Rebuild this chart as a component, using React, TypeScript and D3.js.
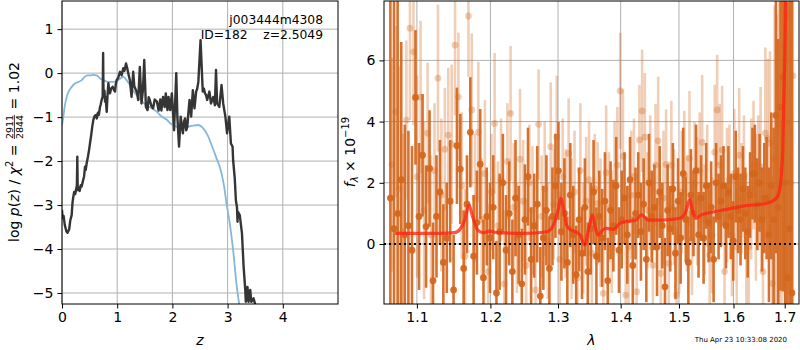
import { useEffect, useRef } from 'react'
import * as d3 from 'd3'

// ---- left panel: log p(z) ----
const pzZ = [0.0, 0.01, 0.03, 0.05, 0.08, 0.10, 0.13, 0.15, 0.175, 0.19, 0.205, 0.22, 0.24, 0.26, 0.27, 0.277, 0.285, 0.30, 0.32, 0.34,
  0.356, 0.38, 0.40, 0.417, 0.43, 0.447, 0.47, 0.49, 0.507, 0.53, 0.55, 0.567, 0.59, 0.616, 0.63, 0.65, 0.668, 0.688, 0.70, 0.72,
  0.737, 0.745, 0.752, 0.77, 0.78, 0.79, 0.81, 0.825, 0.84, 0.855, 0.87, 0.89, 0.918, 0.94, 0.96, 0.975, 0.99, 1.02, 1.05, 1.08,
  1.11, 1.13, 1.16, 1.18, 1.20, 1.23, 1.26, 1.29, 1.31, 1.34, 1.36, 1.38, 1.41, 1.44, 1.465, 1.49, 1.52, 1.55, 1.57, 1.59,
  1.62, 1.65, 1.68, 1.72, 1.75, 1.78, 1.80, 1.83, 1.86, 1.88, 1.91, 1.93, 1.96, 1.99, 2.03, 2.07, 2.09, 2.12, 2.15, 2.17,
  2.19, 2.21, 2.23, 2.25, 2.27, 2.29, 2.31, 2.34, 2.37, 2.40, 2.43, 2.45, 2.47, 2.51, 2.55, 2.57, 2.59, 2.61, 2.63, 2.67,
  2.70, 2.74, 2.77, 2.79, 2.81, 2.85, 2.89, 2.92, 2.96, 2.99, 3.03, 3.06, 3.09, 3.10, 3.13, 3.15, 3.17, 3.18, 3.185, 3.22,
  3.26, 3.29, 3.32, 3.33, 3.36, 3.38, 3.41, 3.43, 3.47, 3.50]
const pzLog = [-3.11, -3.30, -3.25, -3.45, -3.60, -3.63, -3.55, -3.35, -3.23, -2.95, -2.81, -2.70, -2.75, -2.62, -2.55, -1.90, -2.66, -2.60, -2.68, -2.55,
  -2.58, -2.45, -2.35, -2.13, -2.20, -2.05, -1.90, -1.75, -1.60, -1.40, -1.20, -1.07, -0.98, -0.95, -1.03, -0.90, -0.95, -0.77, -0.72, -0.60,
  -0.54, 0.46, -0.50, -0.40, -0.65, -0.54, -0.88, -0.50, -0.23, -0.40, -0.46, -0.35, -0.31, -0.38, -0.42, -0.25, -0.16, -0.10, 0.03, -0.05,
  0.11, 0.05, 0.22, 0.12, 0.0, -0.16, -0.54, 0.03, -0.30, -0.39, -0.45, -0.61, 0.14, -0.69, -0.40, 0.30, -0.77, -0.84, -0.55, -0.61,
  -0.75, -0.80, -0.60, -0.65, -0.85, -0.60, -0.85, -0.54, -0.77, -0.46, -0.84, -0.54, -0.84, -0.46, -1.30, 0.0, -0.99, -1.67, -0.99, -1.20,
  -1.37, -1.10, -1.03, -1.30, -1.22, -0.90, -0.61, -0.99, -0.39, -0.80, -0.42, -0.35, -0.20, 0.75, -0.42, -0.35, -0.46, -0.50, -0.61, -0.42,
  -0.69, -0.54, -0.73, 0.07, -0.69, -0.77, -0.27, -0.69, -0.99, -1.37, -0.99, -1.60, -1.67, -1.98, -2.40, -2.89, -3.05, -3.38, -3.15, -3.23,
  -3.64, -4.40, -4.93, -5.20, -4.86, -5.20, -4.93, -5.20, -5.12, -5.26]

const priorZ = [0.0, 0.02, 0.05, 0.085, 0.12, 0.16, 0.205, 0.26, 0.30, 0.357, 0.417, 0.46, 0.507, 0.57, 0.628, 0.69, 0.75, 0.84, 0.93, 1.02,
  1.08, 1.11, 1.17, 1.22, 1.26, 1.32, 1.38, 1.45, 1.53, 1.62, 1.72, 1.80, 1.90, 1.96, 2.08, 2.20, 2.35, 2.47, 2.53, 2.58,
  2.62, 2.67, 2.71, 2.76, 2.80, 2.85, 2.89, 2.94, 2.98, 3.04, 3.10, 3.16, 3.21]
const priorLog = [-1.20, -1.03, -0.75, -0.54, -0.42, -0.34, -0.27, -0.22, -0.20, -0.16, -0.08, -0.05, -0.05, -0.04, -0.05, -0.12, -0.16, -0.20, -0.20, -0.16,
  -0.10, -0.08, -0.16, -0.25, -0.35, -0.45, -0.54, -0.64, -0.73, -0.80, -0.88, -0.98, -1.06, -1.14, -1.22, -1.24, -1.20, -1.18, -1.22, -1.29,
  -1.37, -1.50, -1.64, -1.80, -1.94, -2.10, -2.28, -2.60, -2.96, -3.42, -4.02, -4.78, -5.26]

const zTicks = [0, 1, 2, 3, 4]
const pTicks = [-5, -4, -3, -2, -1, 0, 1]

// ---- right panel: spectrum ----
const darkStart = 1.066
const lightStart = 1.068
const pixStep = 0.0046

const darkFlux = [1.5, 0.5, 1.0, 2.1, 0.3, 0.6, -0.2, 4.79, 0.9, 2.9,
  0.57, 2.47, -1.2, 0.9, 1.7, -0.6, 0.2, 1.4, -1.5, 3.21,
  2.45, -0.8, 1.3, 3.65, -0.4, 0.7, 2.61, -1.1, 0.9, 0.2,
  1.2, -1.6, 0.4, 2.0, -0.2, 1.0, -0.9, 1.5, 0.3, -1.3,
  0.8, 2.2, -0.5, 0.6, 1.3, -1.7, 0.2, 1.1, -0.8, 0.9,
  1.9, 2.39, 0.4, 1.0, -0.6, 1.6, 0.3, -1.0, 0.8, -0.3,
  1.2, -0.9, 0.5, 1.7, -0.4, 0.9, 0.2, 1.4, -1.2, 1.1,
  0.6, 1.9, -0.2, 0.8, 1.5, 0.3, 2.1, -0.7, 1.0, 1.6,
  0.4, 1.3, -0.5, 2.0, 0.9, 1.2, -0.1, 1.7, 0.6, -1.4,
  1.1, 0.5, 1.8, -0.3, 1.4, 0.2, 2.3, 0.8, -0.6, 1.6,
  1.0, 2.4, 0.3, 1.5, 0.2, 1.9, 0.7, 1.2, -0.5, 2.0,
  0.9, 1.4, 1.9, 0.6, 1.7, 0.9, 0.1, 2.2, 1.1, 0.8,
  1.8, 1.0, 0.4, 1.6, 2.3, 2.3, 1.3, 2.0, 0.8, 1.5,
  1.5, 0.3, 1.9, 0.8, 4.2, 1.2, 4.47, 5.45, 2.0, -1.1, 0.5, -1.6]
const darkErr = [8, 8, 7, 4.5, 3.6, 3.1, 3.4, 2.2, 2.4, 2.0,
  2.0, 1.9, 1.9, 2.0, 1.7, 1.9, 1.8, 2.0, 1.8, 1.9,
  1.8, 1.9, 1.6, 1.8, 2.0, 1.7, 1.8, 1.9, 1.6, 1.8,
  1.7, 1.7, 1.9, 1.6, 1.8, 1.7, 1.7, 1.9, 1.6, 1.8,
  1.8, 1.6, 1.7, 1.7, 1.9, 1.6, 1.7, 1.8, 1.7, 1.6,
  1.7, 1.6, 1.6, 1.8, 1.5, 1.7, 1.6, 1.6, 1.7, 1.5,
  1.6, 1.6, 1.5, 1.7, 1.6, 1.5, 1.6, 1.6, 1.4, 1.6,
  1.5, 1.6, 1.4, 1.6, 1.5, 1.6, 1.4, 1.6, 1.5, 1.4,
  1.6, 1.5, 1.4, 1.6, 1.5, 1.4, 1.6, 1.5, 1.4, 1.6,
  1.5, 1.4, 1.5, 1.5, 1.4, 1.5, 1.5, 1.4, 1.5, 1.5,
  1.4, 1.5, 1.4, 1.4, 1.5, 1.4, 1.3, 1.5, 1.4, 1.3,
  1.4, 1.5, 1.3, 1.4, 1.5, 1.4, 1.3, 1.5, 1.4, 1.5,
  1.4, 1.5, 1.5, 1.4, 1.5, 1.6, 1.5, 1.6, 1.7, 1.8,
  2.0, 2.2, 2.4, 3.0, 4.5, 5.5, 6, 7, 8, 9, 9, 10]

const lightFlux = [2.6, 4.32, 1.8, 0.4, 4.05, 7.05, 6.28, 2.2, 4.8, 1.1,
  3.62, 0.3, 2.4, 5.42, 1.6, 3.1, 3.56, 3.26, 6.5, 4.81,
  1.9, -0.4, 7.45, 4.38, 1.5, 3.65, 0.8, 2.3, -0.9, 1.7,
  3.94, 0.6, 2.1, -1.3, 2.7, 4.27, 1.2, 0.2, 2.77, 1.4,
  -0.7, 2.0, 1.1, -1.5, 3.91, 0.9, 1.8, 0.1, 3.18, 1.3,
  3.5, -0.5, 2.2, 1.0, 2.96, 0.5, 1.7, -1.1, 2.4, 0.19,
  1.4, 2.1, -0.3, 1.8, 1.33, 0.7, -1.61, 2.33, 1.2, 0.4,
  1.9, 2.58, 5.0, 2.87, -1.67, -0.09, 1.6, 2.2, -1.56, 3.4,
  4.35, 3.49, 1.1, 2.0, -0.69, 2.58, 3.37, -0.96, 1.5, 2.6,
  -0.63, 2.58, 1.2, -1.67, 0.19, 1.7, 2.25, 1.0, 2.8, 0.13,
  1.98, 1.4, 2.4, 3.32, 0.8, 1.9, -0.36, 0.29, 3.0, 4.38,
  2.58, 3.07, -0.9, 1.6, 2.1, 0.29, 2.31, -0.09, 2.9, 1.5,
  2.2, 0.13, -0.09, 1.8, 2.58, 1.2, 2.0, 2.53, -0.9, 3.62,
  3.45, 3.29, -1.29, 2.8, 1.5, 3.9, 2.4, 6.5, 4.0, 7.5, 2.0, 5.5]
const lightErr = [3.5, 2.8, 4.0, 3.2, 2.6, 3.0, 2.4, 3.3, 2.5, 2.9,
  2.3, 2.6, 2.2, 2.4, 2.5, 2.0, 2.2, 2.6, 2.3, 2.1,
  2.4, 2.2, 2.0, 2.5, 2.1, 2.3, 2.0, 2.4, 2.2, 1.9,
  2.3, 2.1, 2.0, 2.4, 1.9, 2.2, 2.1, 1.8, 2.3, 2.0,
  2.2, 1.9, 2.1, 2.3, 1.8, 2.0, 2.2, 1.9, 2.1, 1.8,
  2.0, 2.2, 1.9, 2.1, 1.8, 2.3, 2.0, 1.9, 2.2, 1.8,
  2.1, 1.9, 2.2, 1.8, 2.0, 2.1, 1.9, 2.2, 1.8, 2.0,
  2.1, 1.9, 1.9, 2.2, 1.8, 2.0, 2.1, 1.9, 2.2, 1.8,
  2.0, 2.1, 1.9, 2.2, 1.8, 2.0, 2.1, 1.9, 2.2, 1.8,
  2.0, 2.1, 1.9, 2.2, 1.8, 2.0, 2.1, 1.9, 2.2, 1.8,
  2.0, 2.1, 1.9, 2.2, 1.8, 2.0, 2.1, 1.9, 2.2, 1.8,
  2.0, 2.1, 1.9, 2.2, 1.8, 2.0, 2.1, 1.9, 2.2, 1.8,
  2.0, 2.2, 1.9, 2.3, 2.1, 2.4, 2.2, 2.6, 2.4, 2.8,
  2.6, 3.0, 3.5, 5, 6, 7, 8, 8, 9, 9, 9, 10]

const modelWave = [1.072, 1.10, 1.13, 1.150, 1.158, 1.164, 1.170, 1.175, 1.182, 1.189, 1.199, 1.21, 1.25, 1.283, 1.293, 1.300, 1.304, 1.309,
  1.313, 1.320, 1.327, 1.334, 1.342, 1.348, 1.354, 1.358, 1.363, 1.370, 1.377, 1.388, 1.399, 1.415, 1.425, 1.435, 1.4465, 1.467,
  1.485, 1.5016, 1.512, 1.5195, 1.525, 1.530, 1.540, 1.5498, 1.587, 1.618, 1.664, 1.683, 1.690, 1.693, 1.696, 1.700, 1.703]
const modelFlux = [0.35, 0.35, 0.35, 0.37, 0.50, 0.78, 1.27, 0.89, 0.46, 0.37, 0.42, 0.37, 0.35, 0.40, 0.62, 1.11, 1.49, 1.11,
  0.62, 0.46, 0.40, 0.30, -0.03, 0.50, 0.95, 0.60, 0.29, 0.45, 0.51, 0.48, 0.68, 0.75, 0.78, 0.95, 0.78, 0.78,
  0.80, 0.84, 1.05, 1.46, 1.05, 0.84, 0.95, 1.00, 1.13, 1.24, 1.33, 1.49, 1.80, 2.2, 3.07, 6.0, 9.0]

const waveTicks = [1.1, 1.2, 1.3, 1.4, 1.5, 1.6, 1.7]
const fluxTicks = [0, 2, 4, 6]

const FONT = 'DejaVu Sans, sans-serif'
const ORANGE = '#d4661c'

export default function App() {
  const svgRef = useRef<SVGSVGElement>(null)

  useEffect(() => {
    if (!svgRef.current) return
    const svg = d3.select(svgRef.current)
    svg.selectAll('*').remove()
    svg.attr('font-family', FONT)

    const defs = svg.append('defs')

    // ---------- left panel ----------
    const L = { left: 62, right: 338, top: 1, bottom: 304 }
    const xz = d3.scaleLinear().domain([0, 5]).range([L.left, L.right])
    const yp = d3.scaleLinear().domain([-5.25, 1.64]).range([L.bottom, L.top])

    defs.append('clipPath').attr('id', 'clipL').append('rect')
      .attr('x', L.left).attr('y', L.top).attr('width', L.right - L.left).attr('height', L.bottom - L.top)

    const gl = svg.append('g')
    // grid
    gl.selectAll('line.gx').data(zTicks).enter().append('line')
      .attr('x1', d => xz(d)).attr('x2', d => xz(d)).attr('y1', L.top).attr('y2', L.bottom)
      .attr('stroke', '#b0b0b0').attr('stroke-width', 1)
    gl.selectAll('line.gy').data(pTicks).enter().append('line')
      .attr('y1', d => yp(d)).attr('y2', d => yp(d)).attr('x1', L.left).attr('x2', L.right)
      .attr('stroke', '#b0b0b0').attr('stroke-width', 1)

    const dataL = gl.append('g').attr('clip-path', 'url(#clipL)')
    const priorPts = priorZ.map((z, i) => [z, priorLog[i]] as [number, number])
    const pzPts = pzZ.map((z, i) => [z, pzLog[i]] as [number, number])
    dataL.append('path')
      .datum(priorPts)
      .attr('fill', 'none').attr('stroke', '#86b6da').attr('stroke-width', 1.8)
      .attr('d', d3.line<[number, number]>().x(d => xz(d[0])).y(d => yp(d[1])).curve(d3.curveMonotoneX))
    dataL.append('path')
      .datum(pzPts)
      .attr('fill', 'none').attr('stroke', '#353535').attr('stroke-width', 2.4).attr('stroke-linejoin', 'round')
      .attr('d', d3.line<[number, number]>().x(d => xz(d[0])).y(d => yp(d[1])))

    // frame + axes
    gl.append('rect').attr('x', L.left).attr('y', L.top).attr('width', L.right - L.left).attr('height', L.bottom - L.top)
      .attr('fill', 'none').attr('stroke', '#000').attr('stroke-width', 1)
    const axL = gl.append('g').attr('transform', `translate(0,${L.bottom})`)
      .call(d3.axisBottom(xz).tickValues(zTicks).tickFormat(d3.format('d')).tickSize(4.5).tickPadding(4))
    const ayL = gl.append('g').attr('transform', `translate(${L.left},0)`)
      .call(d3.axisLeft(yp).tickValues(pTicks).tickFormat(d3.format('d')).tickSize(4.5).tickPadding(4))
    ;[axL, ayL].forEach(a => {
      a.select('.domain').remove()
      a.selectAll('text').attr('font-size', 14).attr('font-family', FONT).attr('fill', '#000')
      a.selectAll('line').attr('stroke', '#000')
    })

    // annotation
    gl.append('text').attr('x', 323).attr('y', 24).attr('text-anchor', 'end').attr('font-size', 12.3)
      .text('j003444m4308')
    gl.append('text').attr('x', 323).attr('y', 39).attr('text-anchor', 'end').attr('font-size', 12.3)
      .style('white-space', 'pre').text('ID=182    z=2.5049')

    // x label
    gl.append('text').attr('x', (L.left + L.right) / 2).attr('y', 345).attr('text-anchor', 'middle')
      .attr('font-size', 14).attr('font-style', 'italic').text('z')

    // y label with fraction
    const yl = gl.append('g')
    const part1 = yl.append('text').attr('font-size', 14).attr('x', 0).attr('y', 0)
    part1.append('tspan').text('log ')
    part1.append('tspan').attr('font-style', 'italic').text('p')
    part1.append('tspan').text('(')
    part1.append('tspan').attr('font-style', 'italic').text('z')
    part1.append('tspan').text(') / ')
    part1.append('tspan').attr('font-style', 'italic').text('χ')
    part1.append('tspan').attr('font-size', 10).attr('dy', -6).text('2')
    part1.append('tspan').attr('dy', 6).style('white-space', 'pre').text(' = ')
    const w1 = (part1.node() as SVGTextElement).getComputedTextLength()
    const num = yl.append('text').attr('font-size', 9.5).attr('y', -6.5).text('2911')
    const den = yl.append('text').attr('font-size', 9.5).attr('y', 3.5).text('2844')
    const fw = Math.max((num.node() as SVGTextElement).getComputedTextLength(), (den.node() as SVGTextElement).getComputedTextLength())
    num.attr('x', w1 + 1).attr('textLength', fw)
    den.attr('x', w1 + 1)
    yl.append('line').attr('x1', w1 + 1).attr('x2', w1 + 1 + fw).attr('y1', -4.6).attr('y2', -4.6)
      .attr('stroke', '#000').attr('stroke-width', 0.8)
    const part2 = yl.append('text').attr('font-size', 14).attr('x', w1 + fw + 2).attr('y', 0)
      .style('white-space', 'pre').text(' = 1.02')
    const total = w1 + fw + 2 + (part2.node() as SVGTextElement).getComputedTextLength()
    yl.attr('transform', `translate(19,${152 + total / 2}) rotate(-90)`)

    // ---------- right panel ----------
    const R = { left: 384, right: 799, top: 1, bottom: 304 }
    const xw = d3.scaleLog().domain([1.058, 1.729]).range([R.left, R.right])
    const yf = d3.scaleLinear().domain([-1.96, 7.94]).range([R.bottom, R.top])

    defs.append('clipPath').attr('id', 'clipR').append('rect')
      .attr('x', R.left).attr('y', R.top).attr('width', R.right - R.left).attr('height', R.bottom - R.top)

    const gr = svg.append('g')
    gr.selectAll('line.gx').data(waveTicks).enter().append('line')
      .attr('x1', d => xw(d)).attr('x2', d => xw(d)).attr('y1', R.top).attr('y2', R.bottom)
      .attr('stroke', '#b0b0b0').attr('stroke-width', 1)
    gr.selectAll('line.gy').data(fluxTicks).enter().append('line')
      .attr('y1', d => yf(d)).attr('y2', d => yf(d)).attr('x1', R.left).attr('x2', R.right)
      .attr('stroke', '#b0b0b0').attr('stroke-width', 1)

    const dataR = gr.append('g').attr('clip-path', 'url(#clipR)')

    const lightPts = lightFlux.map((f, i) => ({ w: lightStart + i * pixStep, f, e: lightErr[i] }))
    const darkPts = darkFlux.map((f, i) => ({ w: darkStart + i * pixStep, f, e: darkErr[i] }))

    const drawSet = (pts: { w: number; f: number; e: number }[], opacity: number) => {
      const g = dataR.append('g')
      pts.forEach(p => {
        g.append('line')
          .attr('x1', xw(p.w)).attr('x2', xw(p.w))
          .attr('y1', yf(p.f - p.e)).attr('y2', yf(p.f + p.e))
          .attr('stroke', ORANGE).attr('stroke-width', 2.6).attr('stroke-opacity', opacity)
        g.append('circle')
          .attr('cx', xw(p.w)).attr('cy', yf(p.f)).attr('r', 3.4)
          .attr('fill', ORANGE).attr('fill-opacity', opacity)
      })
    }
    drawSet(lightPts, 0.32)
    drawSet(darkPts, 0.92)

    dataR.append('line')
      .attr('x1', R.left).attr('x2', R.right).attr('y1', yf(0)).attr('y2', yf(0))
      .attr('stroke', '#000').attr('stroke-width', 2).attr('stroke-dasharray', '2,3')

    const modelPts = modelWave.map((w, i) => [w, modelFlux[i]] as [number, number])
    dataR.append('path')
      .datum(modelPts)
      .attr('fill', 'none').attr('stroke', '#ff2414').attr('stroke-opacity', 0.78).attr('stroke-width', 3.2)
      .attr('d', d3.line<[number, number]>().x(d => xw(d[0])).y(d => yf(d[1])).curve(d3.curveMonotoneX))

    gr.append('rect').attr('x', R.left).attr('y', R.top).attr('width', R.right - R.left).attr('height', R.bottom - R.top)
      .attr('fill', 'none').attr('stroke', '#000').attr('stroke-width', 1)
    const axR = gr.append('g').attr('transform', `translate(0,${R.bottom})`)
      .call(d3.axisBottom(xw).tickValues(waveTicks).tickFormat(d3.format('.1f')).tickSize(4.5).tickPadding(4))
    const ayR = gr.append('g').attr('transform', `translate(${R.left},0)`)
      .call(d3.axisLeft(yf).tickValues(fluxTicks).tickFormat(d3.format('d')).tickSize(4.5).tickPadding(4))
    ;[axR, ayR].forEach(a => {
      a.select('.domain').remove()
      a.selectAll('text').attr('font-size', 14).attr('font-family', FONT).attr('fill', '#000')
      a.selectAll('line').attr('stroke', '#000')
    })

    gr.append('text').attr('x', (R.left + R.right) / 2).attr('y', 345).attr('text-anchor', 'middle')
      .attr('font-size', 14).attr('font-style', 'italic').text('λ')

    const fl = gr.append('text').attr('font-size', 14)
    fl.append('tspan').attr('font-style', 'italic').text('f')
    fl.append('tspan').attr('font-style', 'italic').attr('font-size', 10).attr('dy', 3).text('λ')
    fl.append('tspan').attr('dy', -3).style('white-space', 'pre').text(' × 10')
    fl.append('tspan').attr('font-size', 10).attr('dy', -6).text('−19')
    const fw2 = (fl.node() as SVGTextElement).getComputedTextLength()
    fl.attr('transform', `translate(355,${152 + fw2 / 2}) rotate(-90)`)

    // timestamp
    svg.append('text').attr('x', 787).attr('y', 342).attr('text-anchor', 'end').attr('font-size', 7)
      .text('Thu Apr 23 10:33:08 2020')
  }, [])

  return (
    <svg ref={svgRef} width={800} height={350}
      style={{ position: 'absolute', left: 0, top: 0, background: '#fff' }} />
  )
}
